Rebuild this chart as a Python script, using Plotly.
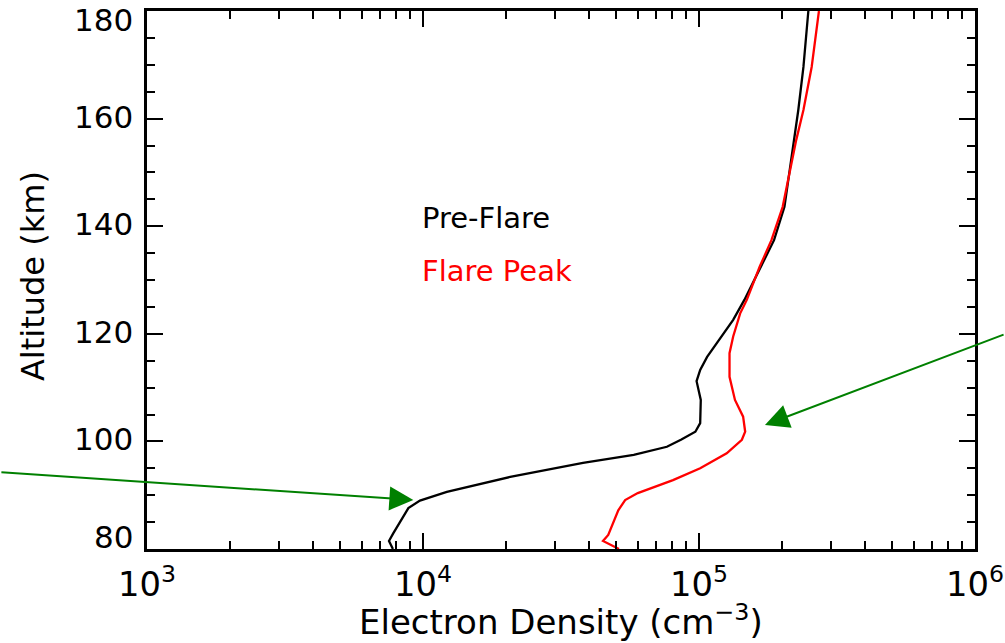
import plotly.graph_objects as go

# ---- data ----
pre_alt = [80.0, 81.5, 82.9, 85.4, 87.6, 89.0, 90.6, 93.4, 96.0, 97.5, 99.0, 100.3,
           101.8, 103.4, 107.7, 111.2, 113.3, 115.7, 119.8, 122.6, 126.3, 132.5,
           137.4, 143.6, 151.1, 156.0, 161.6, 169.6, 180.0]
pre_ne = [7.78e3, 7.53e3, 7.8e3, 8.36e3, 8.85e3, 9.75e3, 1.22e4, 2.07e4, 3.8e4, 5.8e4,
          7.65e4, 8.6e4, 9.7e4, 1.01e5, 1.015e5, 9.8e4, 1.01e5, 1.07e5, 1.22e5, 1.33e5,
          1.46e5, 1.68e5, 1.87e5, 2.04e5, 2.14e5, 2.20e5, 2.29e5, 2.39e5, 2.49e5]

peak_alt = [80.0, 81.5, 82.6, 84.8, 87.2, 89.1, 90.4, 92.8, 95.0, 97.8, 100.3, 101.8,
            104.6, 107.7, 112.0, 116.4, 119.5, 123.8, 126.3, 132.5, 137.4, 143.6,
            151.1, 156.0, 161.6, 169.6, 180.0]
peak_ne = [5.13e4, 4.49e4, 4.69e4, 4.89e4, 5.1e4, 5.4e4, 6.0e4, 8.05e4, 1.01e5, 1.26e5,
           1.43e5, 1.47e5, 1.445e5, 1.35e5, 1.29e5, 1.29e5, 1.33e5, 1.41e5, 1.49e5,
           1.66e5, 1.83e5, 2.01e5, 2.16e5, 2.25e5, 2.39e5, 2.56e5, 2.72e5]

series_names = ["Pre-Flare", "Flare Peak"]
series_colors = ["black", "red"]

x_range_log = [3, 6]
y_range = [80, 180]
y_ticks = [80, 100, 120, 140, 160, 180]
y_tick_labels = ["80", "100", "120", "140", "160", "180"]

x_title = "Electron Density (cm<sup>−3</sup>)"
y_title = "Altitude (km)"

# arrow annotations: (head log10 x, head alt, tail log10 x, tail alt)
arrow_heads_x = [3.965, 5.239]
arrow_heads_y = [89.1, 103.05]
arrow_tails_x = [2.467, 6.109]
arrow_tails_y = [94.3, 119.96]

FONT = "DejaVu Sans"

fig = go.Figure()
for alt, ne, name, col in [(pre_alt, pre_ne, series_names[0], series_colors[0]),
                           (peak_alt, peak_ne, series_names[1], series_colors[1])]:
    fig.add_trace(go.Scatter(x=ne, y=alt, mode="lines", name=name,
                             line=dict(color=col, width=2.3), showlegend=False))

# series labels
fig.add_annotation(x=3.99, y=141.6, xref="x", yref="y", text=series_names[0],
                   showarrow=False, xanchor="left", yanchor="middle",
                   font=dict(family=FONT, size=29, color=series_colors[0]))
fig.add_annotation(x=3.99, y=131.7, xref="x", yref="y", text=series_names[1],
                   showarrow=False, xanchor="left", yanchor="middle",
                   font=dict(family=FONT, size=29, color=series_colors[1]))

for hx, hy, tx, ty in zip(arrow_heads_x, arrow_heads_y, arrow_tails_x, arrow_tails_y):
    fig.add_annotation(x=hx, y=hy, xref="x", yref="y", ax=tx, ay=ty,
                       axref="x", ayref="y", text="", showarrow=True,
                       arrowhead=2, arrowsize=2.4, arrowwidth=2,
                       arrowcolor="#008000")

# y tick labels (end labels sit inside the axis span, as in the original)
for v, lab in zip(y_ticks, y_tick_labels):
    shift = 0
    if v == y_range[0]:
        shift = 10
    elif v == y_range[1]:
        shift = -11
    fig.add_annotation(x=0, y=v, xref="paper", yref="y", text=lab, showarrow=False,
                       xanchor="right", yanchor="middle", xshift=-12, yshift=shift + 2,
                       font=dict(family=FONT, size=31, color="black"))

# axis titles
fig.add_annotation(x=0.5, y=0, xref="paper", yref="paper", text=x_title,
                   showarrow=False, xanchor="center", yanchor="middle", yshift=-71,
                   font=dict(family=FONT, size=34, color="black"))
fig.add_annotation(x=0, y=0.5074, xref="paper", yref="paper", text=y_title,
                   showarrow=False, xanchor="center", yanchor="middle", xshift=-114,
                   textangle=-90, font=dict(family=FONT, size=32, color="black"))

axis_common = dict(showgrid=False, zeroline=False, showline=True, linecolor="black",
                   linewidth=2.5, ticks="inside", tickcolor="black", tickwidth=2,
                   ticklen=16, mirror="allticks", automargin=False,
                   ticklabeloverflow="allow")

fig.update_xaxes(type="log", range=x_range_log, dtick=1, exponentformat="power",
                 minor=dict(ticks="inside", ticklen=8, tickwidth=2, tickcolor="black",
                            dtick="D1"),
                 tickfont=dict(family=FONT, size=27, color="black"),
                 ticklabelstandoff=5,
                 **axis_common)
fig.update_yaxes(range=y_range, tickvals=y_ticks, showticklabels=False,
                 minor=dict(ticks="inside", ticklen=8, tickwidth=2, tickcolor="black",
                            dtick=5, tick0=80),
                 **axis_common)

fig.update_layout(width=1005, height=643, autosize=False,
                  margin=dict(l=147, r=30, t=11, b=94),
                  paper_bgcolor="white", plot_bgcolor="white",
                  font=dict(family=FONT, color="black"))

fig.write_html("out.html", config={"displayModeBar": False},
               post_script="document.body.style.margin='0px';document.body.style.overflow='hidden';")
